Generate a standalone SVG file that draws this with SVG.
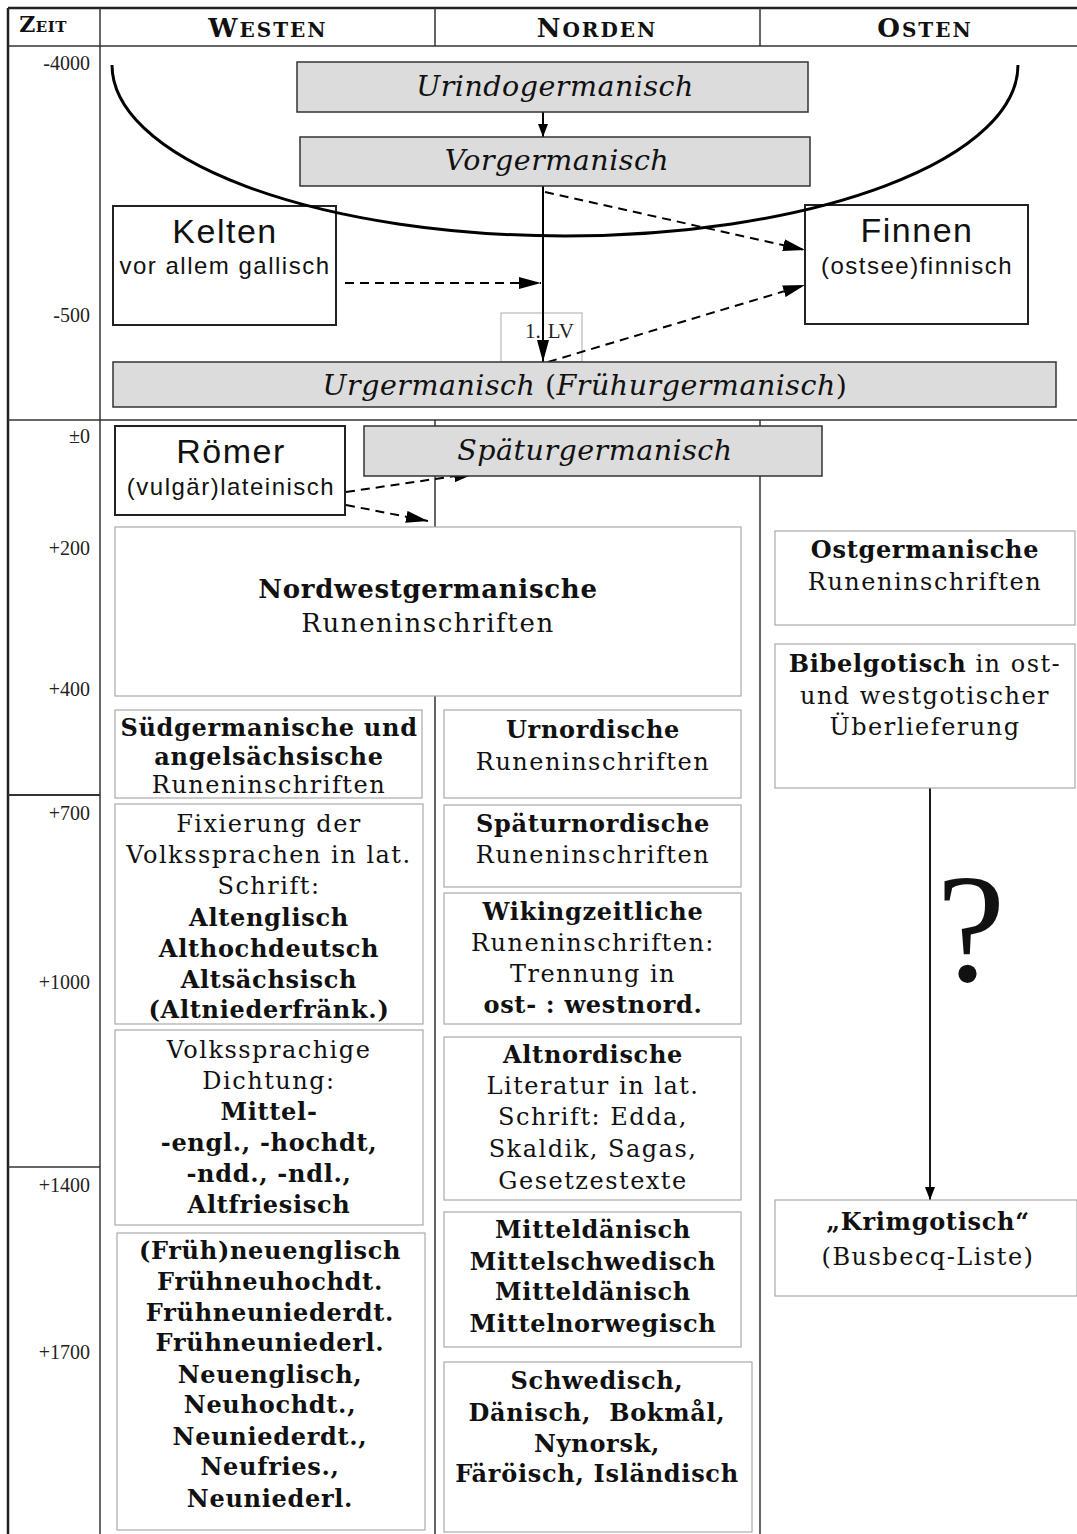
<svg xmlns="http://www.w3.org/2000/svg" width="1077" height="1534" viewBox="0 0 1077 1534">
<defs>
<style>
.grid{stroke:#333;stroke-width:1.5;fill:none}
.gbox{fill:#dcdcdc;stroke:#333;stroke-width:1.5}
.dbox{fill:#fff;stroke:#222;stroke-width:2}
.lbox{fill:#fff;stroke:#aaa;stroke-width:1.2}
.sans{font-family:"Liberation Sans",Arial,sans-serif;fill:#111;text-anchor:middle;letter-spacing:1.5px}
.big{font-size:34px}
.sub{font-size:24px}
.ser{font-family:"DejaVu Serif",serif;fill:#111;text-anchor:middle}
.it{font-style:italic;font-size:28.5px;letter-spacing:0.5px}
.r{font-size:24px;letter-spacing:1.5px}
.bb{font-size:24px;font-weight:bold;letter-spacing:0.7px}
.bd{font-weight:bold;letter-spacing:0.7px}
.zeit{font-family:"Liberation Serif","Times New Roman",serif;font-size:20px;fill:#222;text-anchor:end}
.hd{font-family:"DejaVu Serif",serif;font-weight:bold;fill:#111;text-anchor:middle;font-size:20px;letter-spacing:2px}
.hd tspan.c{font-size:26px}
.conn{stroke:#000;stroke-width:2;fill:none}
.dash{stroke:#000;stroke-width:2;fill:none;stroke-dasharray:9 6}
</style>
<marker id="ah" markerUnits="userSpaceOnUse" markerWidth="24" markerHeight="12" refX="22" refY="6" orient="auto">
<path d="M0,0 L22,6 L0,12 Z" fill="#000"/>
</marker>
<marker id="as" markerUnits="userSpaceOnUse" markerWidth="14" markerHeight="10" refX="13" refY="5" orient="auto">
<path d="M0,0 L13,5 L0,10 Z" fill="#000"/>
</marker>
</defs>
<rect width="1077" height="1534" fill="#fff"/>

<g id="table">
<line x1="8" y1="8" x2="1077" y2="8" stroke="#222" stroke-width="2.5"/>
<line x1="8" y1="46" x2="1077" y2="46" class="grid"/>
<line x1="8" y1="8" x2="8" y2="1534" stroke="#222" stroke-width="2.5"/>
<line x1="100" y1="8" x2="100" y2="1534" class="grid"/>
<line x1="435" y1="8" x2="435" y2="46" class="grid"/>
<line x1="760" y1="8" x2="760" y2="46" class="grid"/>
<line x1="8" y1="420" x2="1077" y2="420" class="grid"/>
<line x1="435" y1="420" x2="435" y2="1534" class="grid"/>
<line x1="760" y1="420" x2="760" y2="1534" class="grid"/>
<line x1="8" y1="795" x2="100" y2="795" stroke="#333" stroke-width="2"/>
<line x1="8" y1="1167" x2="100" y2="1167" class="grid"/>
<text x="43" y="32" class="hd" style="letter-spacing:0.5px"><tspan font-size="22">Z</tspan><tspan font-size="15">EIT</tspan></text>
<text x="268" y="37" class="hd"><tspan class="c">W</tspan>ESTEN</text>
<text x="597" y="37" class="hd"><tspan class="c">N</tspan>ORDEN</text>
<text x="925" y="37" class="hd"><tspan class="c">O</tspan>STEN</text>
<text x="90" y="70" class="zeit">-4000</text>
<text x="90" y="322" class="zeit">-500</text>
<text x="90" y="443" class="zeit">±0</text>
<text x="90" y="555" class="zeit">+200</text>
<text x="90" y="696" class="zeit">+400</text>
<text x="90" y="820" class="zeit">+700</text>
<text x="90" y="989" class="zeit">+1000</text>
<text x="90" y="1192" class="zeit">+1400</text>
<text x="90" y="1359" class="zeit">+1700</text>
</g>

<g id="lv"><rect x="501" y="313" width="81" height="49" fill="#fff" stroke="#aaa" stroke-width="1"/>
<text x="525" y="338" font-family="Liberation Serif,serif" font-size="21" fill="#222">1.<tspan dx="7">LV</tspan></text></g>

<g id="connectors">
<line x1="543" y1="112" x2="543" y2="137" class="conn" marker-end="url(#as)"/>
<line x1="543" y1="186" x2="543" y2="362" class="conn" marker-end="url(#ah)"/>
<line x1="545" y1="192" x2="805" y2="250" class="dash" marker-end="url(#ah)"/>
<line x1="345" y1="283" x2="541" y2="283" class="dash" marker-end="url(#ah)"/>
<line x1="548" y1="362" x2="805" y2="285" class="dash" marker-end="url(#ah)"/>
<line x1="346" y1="492" x2="476" y2="473" class="dash" marker-end="url(#ah)"/>
<line x1="346" y1="505" x2="428" y2="521" class="dash" marker-end="url(#ah)"/>
<line x1="930" y1="788" x2="930" y2="1200" stroke="#000" stroke-width="1.8" marker-end="url(#as)"/>
</g>

<g id="urindo"><rect x="297" y="62" width="511" height="50" class="gbox"/>
<text x="555" y="96" class="ser it">Urindogermanisch</text></g>
<g id="vorgerm"><rect x="300" y="137" width="510" height="49" class="gbox"/>
<text x="557" y="170" class="ser it">Vorgermanisch</text></g>
<g id="kelten"><rect x="113" y="206" width="223" height="119" class="dbox"/>
<text x="225" y="243" class="sans big">Kelten</text>
<text x="225" y="274" class="sans sub">vor allem gallisch</text></g>
<g id="finnen"><rect x="805" y="205" width="223" height="119" class="dbox"/>
<text x="917" y="242" class="sans big">Finnen</text>
<text x="917" y="274" class="sans sub">(ostsee)finnisch</text></g>
<g id="arc"><path d="M 112 65 A 453 171 0 0 0 1018 65" fill="none" stroke="#000" stroke-width="3"/></g>
<g id="urgerm"><rect x="113" y="362" width="943" height="45" class="gbox"/>
<text x="585" y="395" class="ser it"><tspan>Urgermanisch</tspan> <tspan font-style="normal">(</tspan>Frühurgermanisch<tspan font-style="normal">)</tspan></text></g>

<g id="roemer"><rect x="115" y="426" width="230" height="89" class="dbox"/>
<text x="231" y="463" class="sans big">Römer</text>
<text x="231" y="495" class="sans sub">(vulgär)lateinisch</text></g>
<g id="spaetur"><rect x="364" y="426" width="458" height="50" class="gbox"/>
<text x="595" y="460" class="ser it">Späturgermanisch</text></g>

<g id="nwg"><rect x="115" y="527" width="626" height="169" class="lbox"/>
<text x="428" y="598" class="ser bb" style="font-size:26px">Nordwestgermanische</text>
<text x="428" y="632" class="ser r" style="font-size:26px;letter-spacing:1.6px">Runeninschriften</text></g>

<g id="ostgerm"><rect x="775" y="531" width="300" height="94" class="lbox"/>
<text x="925" y="558" class="ser bb">Ostgermanische</text>
<text x="925" y="590" class="ser r">Runeninschriften</text></g>
<g id="bibel"><rect x="775" y="644" width="300" height="144" class="lbox"/>
<text x="925" y="672" class="ser r"><tspan class="bd">Bibelgotisch</tspan> in ost-</text>
<text x="925" y="704" class="ser r">und westgotischer</text>
<text x="925" y="735" class="ser r">Überlieferung</text></g>
<g id="frage"><text x="971" y="981" font-family="Liberation Serif,serif" font-size="155" fill="#111" text-anchor="middle">?</text></g>
<g id="krim"><rect x="775" y="1200" width="302" height="96" class="lbox"/>
<text x="928" y="1230" class="ser bb">„Krimgotisch“</text>
<text x="928" y="1265" class="ser r">(Busbecq-Liste)</text></g>

<g id="suedgerm"><rect x="115" y="710" width="307" height="88" class="lbox"/>
<text x="269" y="736" class="ser bb">Südgermanische und</text>
<text x="269" y="765" class="ser bb">angelsächsische</text>
<text x="269" y="793" class="ser r">Runeninschriften</text></g>
<g id="fixierung"><rect x="115" y="804" width="308" height="220" class="lbox"/>
<text x="269" y="832" class="ser r">Fixierung der</text>
<text x="269" y="863" class="ser r">Volkssprachen in lat.</text>
<text x="269" y="894" class="ser r">Schrift:</text>
<text x="269" y="926" class="ser bb">Altenglisch</text>
<text x="269" y="957" class="ser bb">Althochdeutsch</text>
<text x="269" y="988" class="ser bb">Altsächsisch</text>
<text x="269" y="1018" class="ser bb">(Altniederfränk.)</text></g>
<g id="volks"><rect x="115" y="1030" width="308" height="195" class="lbox"/>
<text x="269" y="1058" class="ser r">Volkssprachige</text>
<text x="269" y="1089" class="ser r">Dichtung:</text>
<text x="269" y="1120" class="ser bb">Mittel-</text>
<text x="269" y="1151" class="ser bb">-engl., -hochdt,</text>
<text x="269" y="1182" class="ser bb">-ndd., -ndl.,</text>
<text x="269" y="1213" class="ser bb">Altfriesisch</text></g>
<g id="neu"><rect x="117" y="1233" width="308" height="297" class="lbox"/>
<text x="270" y="1259" class="ser bb">(Früh)neuenglisch</text>
<text x="270" y="1290" class="ser bb">Frühneuhochdt.</text>
<text x="270" y="1321" class="ser bb">Frühneuniederdt.</text>
<text x="270" y="1351" class="ser bb">Frühneuniederl.</text>
<text x="270" y="1383" class="ser bb">Neuenglisch,</text>
<text x="270" y="1413" class="ser bb">Neuhochdt.,</text>
<text x="270" y="1445" class="ser bb">Neuniederdt.,</text>
<text x="270" y="1475" class="ser bb">Neufries.,</text>
<text x="270" y="1507" class="ser bb">Neuniederl.</text></g>

<g id="urnord"><rect x="444" y="710" width="297" height="88" class="lbox"/>
<text x="593" y="738" class="ser bb">Urnordische</text>
<text x="593" y="770" class="ser r">Runeninschriften</text></g>
<g id="spaeturnord"><rect x="444" y="805" width="297" height="82" class="lbox"/>
<text x="593" y="832" class="ser bb">Späturnordische</text>
<text x="593" y="863" class="ser r">Runeninschriften</text></g>
<g id="wiking"><rect x="444" y="893" width="297" height="131" class="lbox"/>
<text x="593" y="920" class="ser bb">Wikingzeitliche</text>
<text x="593" y="951" class="ser r">Runeninschriften:</text>
<text x="593" y="982" class="ser r">Trennung in</text>
<text x="593" y="1013" class="ser bb">ost- : westnord.</text></g>
<g id="altnord"><rect x="444" y="1037" width="297" height="163" class="lbox"/>
<text x="593" y="1063" class="ser bb">Altnordische</text>
<text x="593" y="1094" class="ser r">Literatur in lat.</text>
<text x="593" y="1125" class="ser r">Schrift: Edda,</text>
<text x="593" y="1157" class="ser r">Skaldik, Sagas,</text>
<text x="593" y="1189" class="ser r">Gesetzestexte</text></g>
<g id="mittel"><rect x="444" y="1212" width="297" height="135" class="lbox"/>
<text x="593" y="1238" class="ser bb">Mitteldänisch</text>
<text x="593" y="1270" class="ser bb">Mittelschwedisch</text>
<text x="593" y="1300" class="ser bb">Mitteldänisch</text>
<text x="593" y="1332" class="ser bb">Mittelnorwegisch</text></g>
<g id="modern"><rect x="444" y="1362" width="308" height="170" class="lbox"/>
<text x="597" y="1389" class="ser bb">Schwedisch,</text>
<text x="597" y="1421" class="ser bb" xml:space="preserve">Dänisch,  Bokmål,</text>
<text x="597" y="1452" class="ser bb">Nynorsk,</text>
<text x="597" y="1482" class="ser bb">Färöisch, Isländisch</text></g>
</svg>
